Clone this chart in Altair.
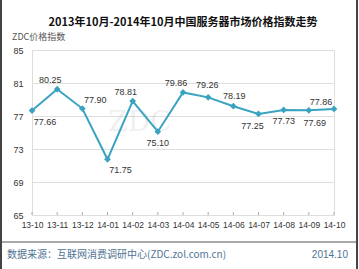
import altair as alt
import pandas as pd

months = ["13-10", "13-11", "13-12", "14-01", "14-02", "14-03", "14-04",
          "14-05", "14-06", "14-07", "14-08", "14-09", "14-10"]
values = [77.66, 80.25, 77.90, 71.75, 78.81, 75.10, 79.86,
          79.26, 78.19, 77.25, 77.73, 77.69, 77.86]
label_place = ["SE", "NW", "NE", "SE", "NW", "S", "NW",
               "NN", "N", "SW", "S", "SEs", "NWW"]
y_ticks = [65, 69, 73, 77, 81, 85]

title_text = "2013年10月-2014年10月中国服务器市场价格指数走势"
ylab_text = "ZDC价格指数"
source_text = "数据来源：互联网消费调研中心(ZDC.zol.com.cn)"
date_text = "2014.10"

df = pd.DataFrame({"month": months, "value": values, "place": label_place})

W, H = 302, 165
PL, PT = 32, 50
LINE = "#3aa3c2"
CJK = "Noto Sans CJK SC"
NUM = "Liberation Sans"

x_enc = alt.X("month:O", sort=months,
              scale=alt.Scale(type="point", padding=0),
              axis=alt.Axis(title=None, labelFont=NUM, labelFontSize=8.5,
                            labelColor="#333", labelAngle=0, labelPadding=5,
                            labelOverlap=False,
                            ticks=False, domain=False, grid=False))
y_enc = alt.Y("value:Q", scale=alt.Scale(domain=[65, 85], nice=False, zero=False),
              axis=alt.Axis(title=None, values=y_ticks, labelFont=NUM,
                            labelFontSize=9, labelColor="#333", labelPadding=9,
                            labelOverlap=False,
                            ticks=False, domain=False, gridColor="#dedede"))

base = alt.Chart(df)

line = base.mark_line(color=LINE, strokeWidth=2).encode(x=x_enc, y=y_enc)
pts = base.mark_point(shape="diamond", filled=True, size=45, color=LINE,
                      opacity=1).encode(x=x_enc, y=y_enc)

ticks = base.mark_rule(color="#aaa").encode(
    x=x_enc, y=alt.value(H - 3), y2=alt.value(H))

offsets = {"N": (1, -10), "NN": (-1, -12), "S": (0, 11), "NE": (13, -9),
           "NW": (-7, -9), "SE": (13, 11), "SEs": (6, 13), "SW": (-6, 12),
           "NWW": (-13, -7)}
labels = []
for key, (dx, dy) in offsets.items():
    labels.append(
        base.transform_filter(alt.datum.place == key)
        .mark_text(font=NUM, fontSize=9, color="#333", dx=dx, dy=dy,
                   baseline="middle", align="center")
        .encode(x=x_enc, y=y_enc,
                text=alt.Text("value:Q", format=".2f"))
    )

def txt(s, x, y, **kw):
    return alt.Chart(pd.DataFrame({"t": [s]})).mark_text(**kw).encode(
        text="t:N", x=alt.value(x), y=alt.value(y))

title = txt(title_text, 183 - PL, 23 - PT, font=CJK, fontSize=11,
            fontWeight="bold", color="#111", align="center", baseline="middle")
ylab = txt(ylab_text, 12 - PL, 37 - PT, font=CJK, fontSize=9,
           color="#555", align="left", baseline="middle")
source = txt(source_text, 7 - PL, 255 - PT, font=CJK, fontSize=10,
             color="#4f7393", align="left", baseline="middle")
date = txt(date_text, 348 - PL, 255 - PT, font=NUM, fontSize=10,
           color="#4f7393", align="right", baseline="middle")
wm = txt("ZDC", 140 - PL, 123 - PT, font="DejaVu Serif", fontSize=28,
         color="#000", opacity=0.06, align="center", baseline="middle")

one = alt.Chart(pd.DataFrame({"a": [0]}))
left_border = one.mark_rule(color="#444", strokeWidth=2).encode(
    x=alt.value(1 - PL), y=alt.value(-PT), y2=alt.value(269 - PT))
right_border = one.mark_rule(color="#444", strokeWidth=2).encode(
    x=alt.value(357 - PL), y=alt.value(-PT), y2=alt.value(269 - PT))
sep = one.mark_rule(color="#555", strokeWidth=1).encode(
    x=alt.value(2 - PL), x2=alt.value(357 - PL), y=alt.value(242 - PT))

chart = alt.layer(wm, line, pts, ticks, *labels, title, ylab, source, date,
                  left_border, right_border, sep).properties(
    width=W, height=H,
    autosize=alt.AutoSizeParams(type="none"),
    padding={"left": PL, "top": PT, "right": 359 - PL - W, "bottom": 269 - PT - H},
).configure_view(stroke="#b5b5b5", strokeWidth=1).configure(background="white")

chart.save("out.html", embed_options={"renderer": "svg", "actions": False})
